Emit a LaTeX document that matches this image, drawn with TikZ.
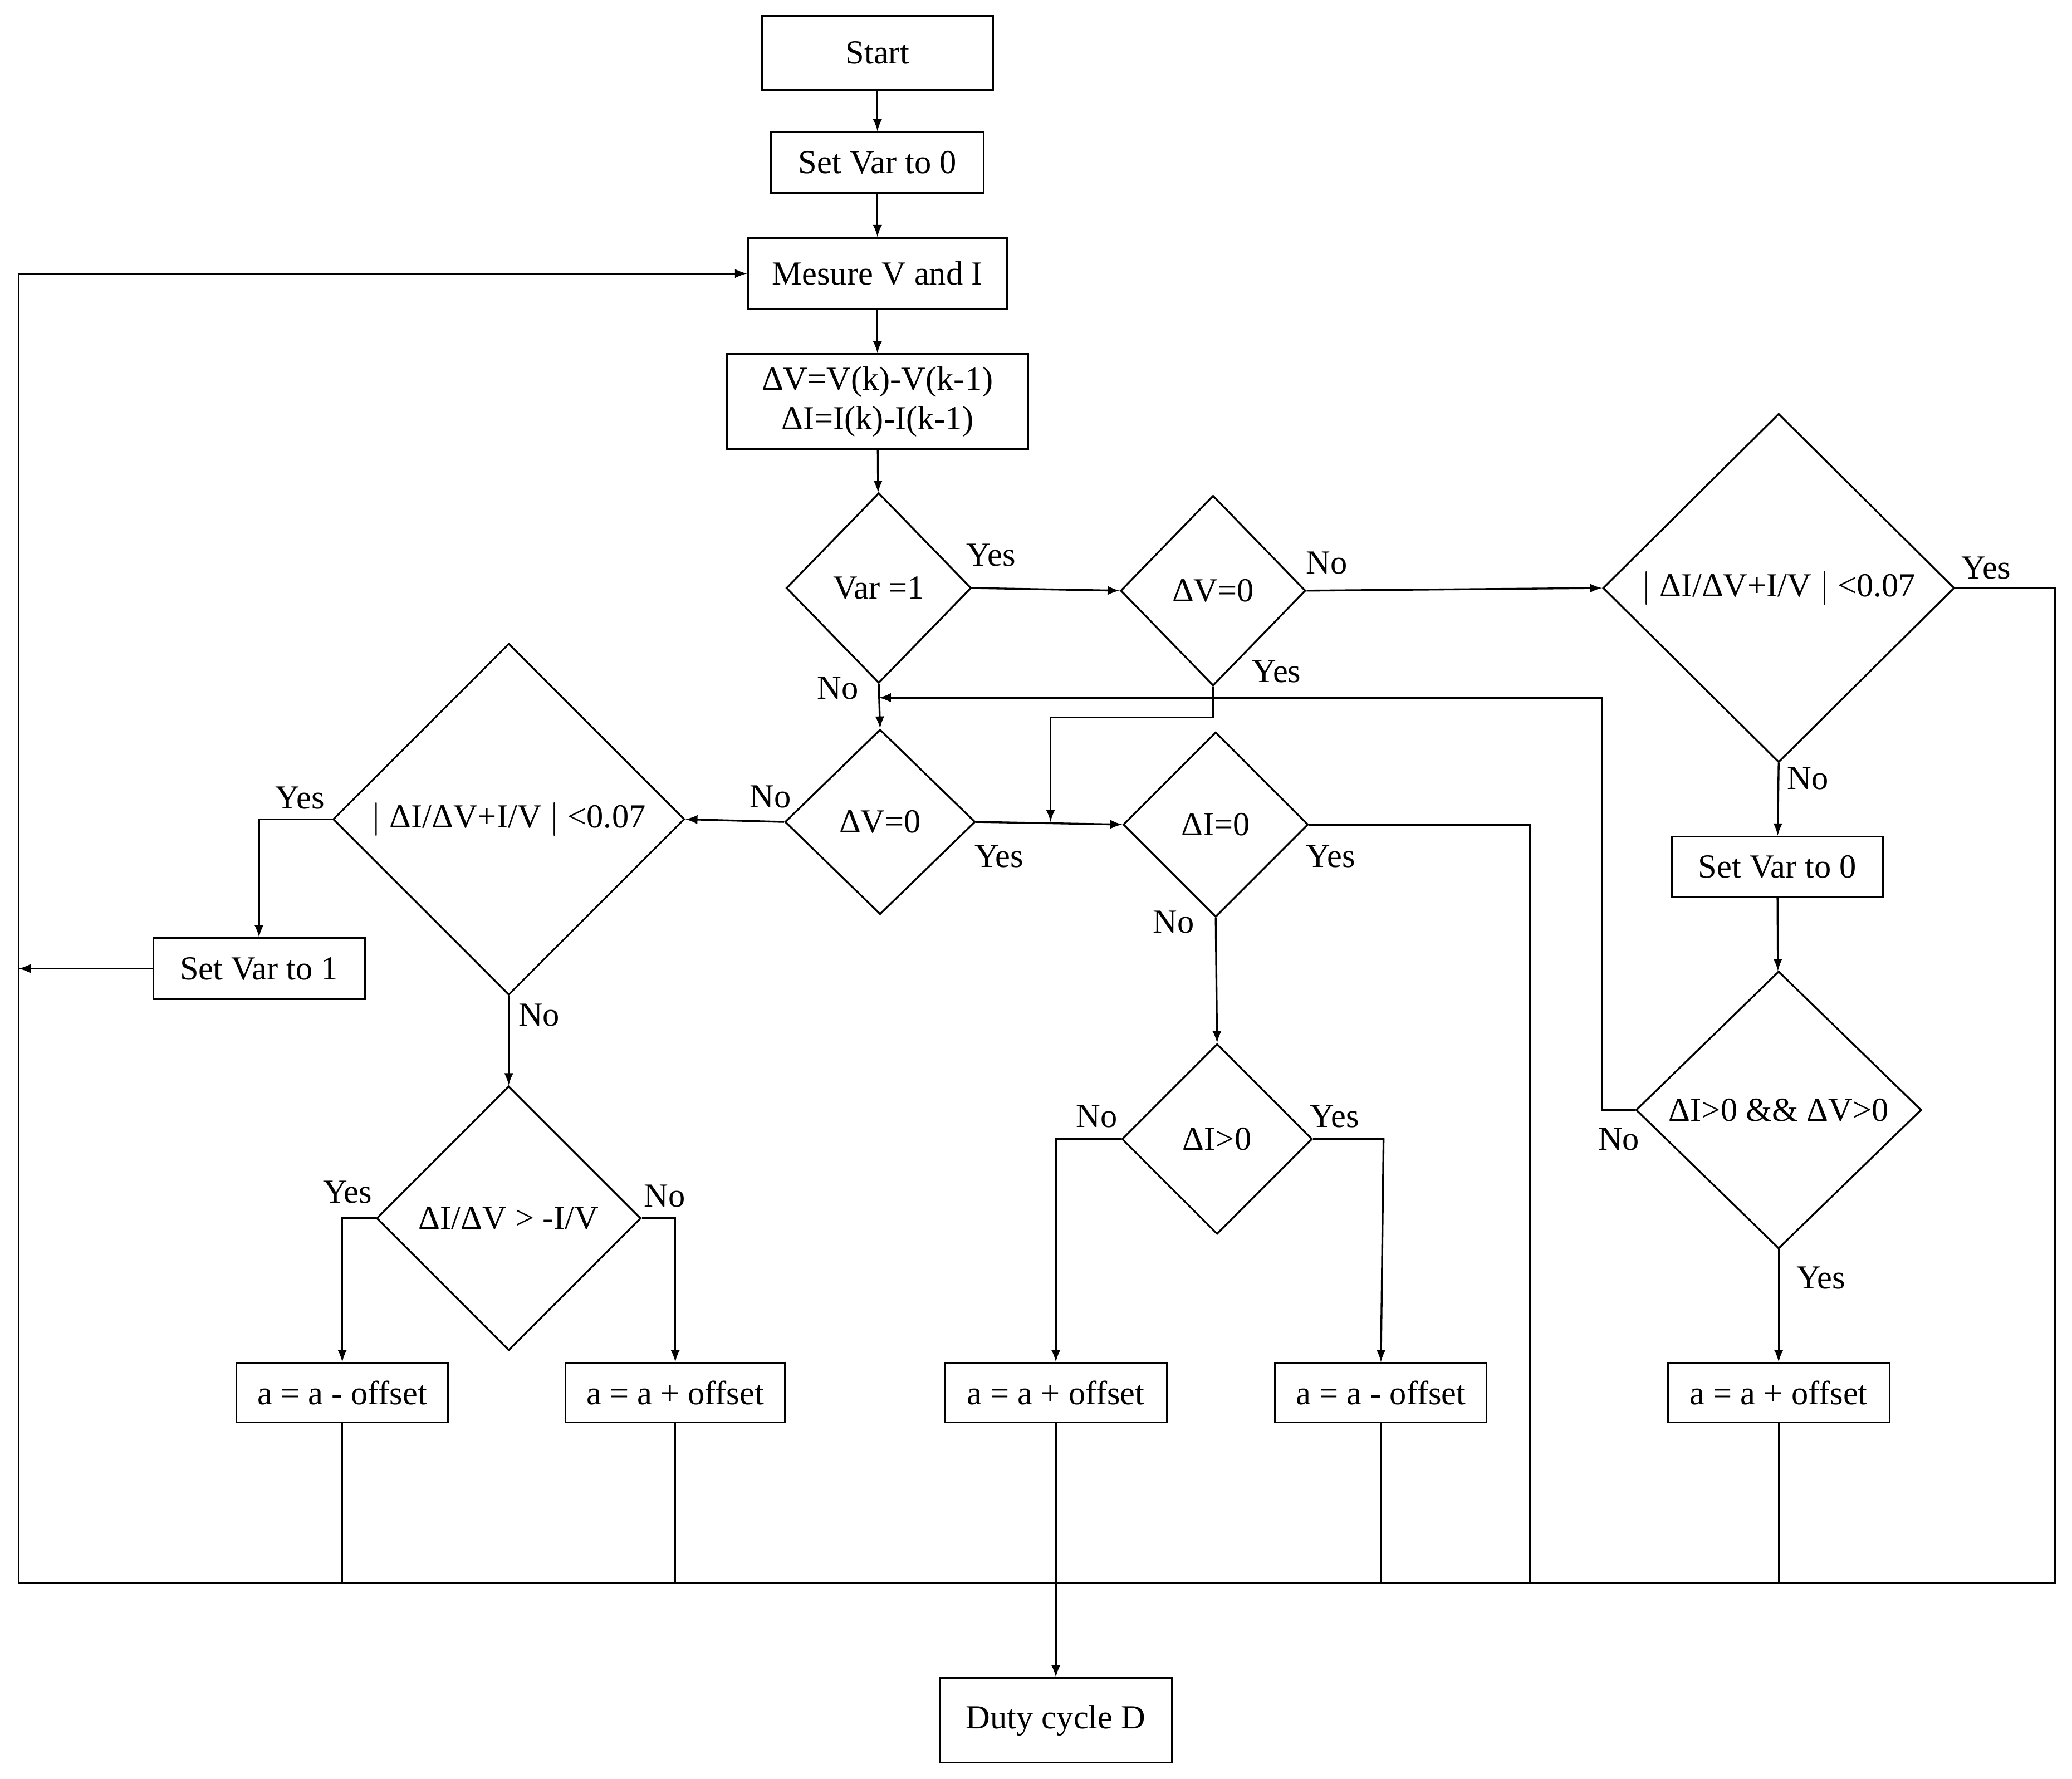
\documentclass[tikz,border=0pt]{standalone}
\usepackage{fontspec}
\setmainfont{Liberation Serif}
\usetikzlibrary{shapes.geometric}
\begin{document}
\begin{tikzpicture}
			[x=0.02cm, y=-0.02cm, thick, >=latex,
			font=\fontsize{14.5}{17}\selectfont,
			block/.style ={rectangle, draw, thick, align=center, inner sep=0pt},
			decision/.style ={diamond, draw, thick, inner sep=0pt, align=center},
			lbl/.style ={inner sep=0pt}]
			\useasboundingbox (0,0) rectangle (1568,1346);
			% boxes
			\node[block, minimum width=3.5cm, minimum height=1.12cm] (start) at (664,40) {Start};
			\node[block, minimum width=3.22cm, minimum height=0.92cm] (set0) at (664,123) {Set Var to 0};
			\node[block, minimum width=3.92cm, minimum height=1.08cm] (meas) at (664,207) {Mesure V and I};
			\node[block, minimum width=4.56cm, minimum height=1.44cm] (diff) at (664,304) {ΔV=V(k)-V(k-1)\\ΔI=I(k)-I(k-1)};
			\node[block, minimum width=3.2cm, minimum height=0.92cm] (setone) at (196,733) {Set Var to 1};
			\node[block, minimum width=3.2cm, minimum height=0.92cm] (setzero) at (1345,656) {Set Var to 0};
			\node[block, minimum width=3.2cm, minimum height=0.9cm] (decA) at (259,1054) {a = a - offset};
			\node[block, minimum width=3.32cm, minimum height=0.9cm] (incA) at (511,1054) {a = a + offset};
			\node[block, minimum width=3.36cm, minimum height=0.9cm] (incB) at (799,1054) {a = a + offset};
			\node[block, minimum width=3.2cm, minimum height=0.9cm] (decB) at (1045,1054) {a = a - offset};
			\node[block, minimum width=3.36cm, minimum height=0.9cm] (incC) at (1346,1054) {a = a + offset};
			\node[block, minimum width=3.52cm, minimum height=1.28cm] (duty) at (799,1302) {Duty cycle D};
			% decisions
			\node[decision, minimum width=2.8cm, minimum height=2.88cm] (var) at (665,445) {Var =1};
			\node[decision, minimum width=2.8cm, minimum height=2.88cm] (dvtop) at (918,447) {ΔV=0};
			\node[decision, minimum width=5.32cm, minimum height=5.28cm] (cmpR) at (1346,445) {$\big|$ ΔI/ΔV+I/V $\big|$ <0.07};
			\node[decision, minimum width=2.88cm, minimum height=2.8cm] (dvmid) at (666,622) {ΔV=0};
			\node[decision, minimum width=2.8cm, minimum height=2.8cm] (dizero) at (920,624) {ΔI=0};
			\node[decision, minimum width=5.32cm, minimum height=5.32cm] (cmpL) at (385,620) {$\big|$ ΔI/ΔV+I/V $\big|$ <0.07};
			\node[decision, minimum width=4cm, minimum height=4cm] (slope) at (385,922) {ΔI/ΔV > -I/V};
			\node[decision, minimum width=2.88cm, minimum height=2.88cm] (dipos) at (921,862) {ΔI>0};
			\node[decision, minimum width=4.32cm, minimum height=4.2cm] (both) at (1346,840) {ΔI>0 \&\& ΔV>0};
			% return path corners
			\coordinate (rR) at (1555,1198);
			\coordinate (rL) at (14,1198);
			\coordinate (jn) at (795,622);
			\coordinate (jv) at (665,528);
			\coordinate (outL) at (14,733);
			% connectors
			\draw[->] (start) -- (set0);
			\draw[->] (set0) -- (meas);
			\draw[->] (meas) -- (diff);
			\draw[->] (diff) -- (var);
			\draw[->] (var.east) -- (dvtop.west);
			\draw[->] (dvtop.east) -- (cmpR.west);
			\draw[->] (var.south) -- (dvmid.north);
			\draw[->] (dvtop.south) |- (795,543) -- (jn);
			\draw[->] (dvmid.east) -- (dizero.west);
			\draw[->] (dvmid.west) -- (cmpL.east);
			\draw (cmpR.east) -| (rR) -- (rL);
			\draw[->] (rL) |- (meas.west);
			\draw[->] (cmpR.south) -- (setzero);
			\draw[->] (setzero) -- (both);
			\draw[->] (both.west) -- (1212,840) |- (jv);
			\draw[->] (both.south) -- (incC);
			\draw (incC) -- (incC |- rR);
			\draw (dizero.east) -- (1158,624) -- (1158,1198);
			\draw[->] (dizero.south) -- (dipos.north);
			\draw[->] (dipos.west) -| (incB.north);
			\draw[->] (dipos.east) -- (1047,862) -- (decB.north);
			\draw (decB) -- (decB |- rR);
			\draw[->] (incB) -- (duty);
			\draw[->] (cmpL.west) -| (setone.north);
			\draw[->] (setone.west) -- (outL);
			\draw[->] (cmpL.south) -- (slope.north);
			\draw[->] (slope.west) -| (decA.north);
			\draw[->] (slope.east) -| (incA.north);
			\draw (decA) -- (decA |- rR);
			\draw (incA) -- (incA |- rR);
			% labels
			\node[lbl] (l1) at (750,420) {Yes};
			\node[lbl] (l2) at (1004,426) {No};
			\node[lbl] (l3) at (634,521) {No};
			\node[lbl] (l4) at (966,508) {Yes};
			\node[lbl] (l5) at (756,648) {Yes};
			\node[lbl] (l6) at (583,603) {No};
			\node[lbl] (l7) at (1503,430) {Yes};
			\node[lbl] (l8) at (1368,589) {No};
			\node[lbl] (l9) at (1225,862) {No};
			\node[lbl] (l10) at (1378,967) {Yes};
			\node[lbl] (l11) at (1007,648) {Yes};
			\node[lbl] (l12) at (888,698) {No};
			\node[lbl] (l13) at (830,845) {No};
			\node[lbl] (l14) at (1010,845) {Yes};
			\node[lbl] (l15) at (227,604) {Yes};
			\node[lbl] (l16) at (408,768) {No};
			\node[lbl] (l17) at (263,902) {Yes};
			\node[lbl] (l18) at (503,905) {No};
		\end{tikzpicture}
\end{document}
